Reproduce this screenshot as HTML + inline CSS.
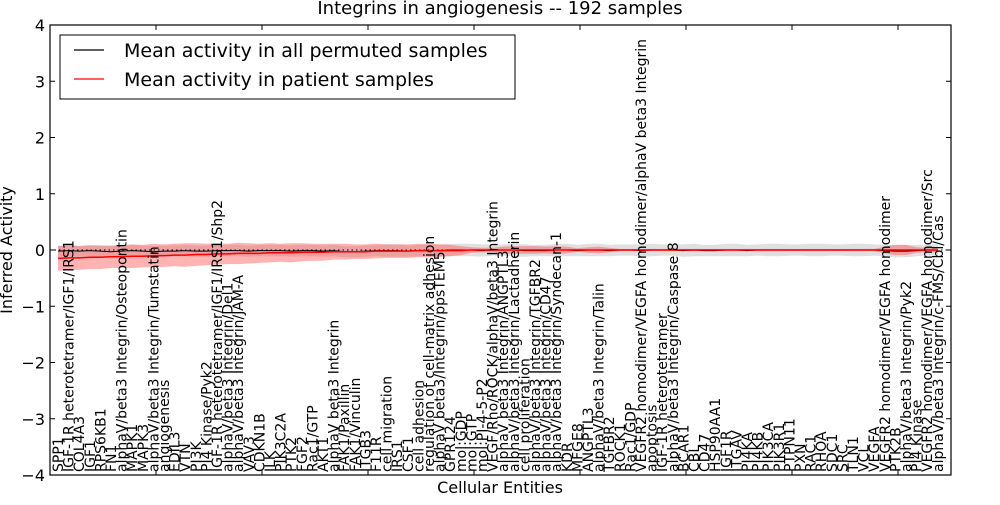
<!DOCTYPE html>
<html><head><meta charset="utf-8"><style>
body{margin:0;background:#fff;width:1000px;height:500px;overflow:hidden}
svg text{font-family:"DejaVu Sans","Liberation Sans",sans-serif}
</style></head><body>
<svg id="chart" width="1000" height="500" viewBox="0 0 1000 500" xmlns="http://www.w3.org/2000/svg">
<text x="500" y="14" font-size="18" text-anchor="middle">Integrins in angiogenesis -- 192 samples</text>
<text transform="translate(12,250) rotate(-90)" font-size="16" text-anchor="middle">Inferred Activity</text>
<text x="500" y="493" font-size="16" text-anchor="middle">Cellular Entities</text>
<g id="bands"></g><g id="lines"></g><g id="labels"></g><g id="axes"></g>
<g>
<rect x="60" y="35" width="455" height="64" fill="#fff" stroke="#000" stroke-width="1"/>
<line x1="74" y1="50" x2="104" y2="50" stroke="#000" stroke-width="1.2"/>
<text x="124" y="57" font-size="19">Mean activity in all permuted samples</text>
<line x1="74" y1="79" x2="104" y2="79" stroke="red" stroke-width="1.2"/>
<text x="124" y="86" font-size="19">Mean activity in patient samples</text>
</g>
</svg>
<script>
const categories=["SPP1","IGF-1R heterotetramer/IGF1/IRS1","COL4A3","IGF1","RPS6KB1","FN1","alphaV/beta3 Integrin/Osteopontin","MAPK1","MAPK3","alphaV/beta3 Integrin/Tumstatin","angiogenesis","EDIL3","VTN","PI3K","PI4 Kinase/Pyk2","IGF-1R heterotetramer/IGF1/IRS1/Shp2","alphaV/beta3 Integrin/Del1","alphaV/beta3 Integrin/JAM-A","VAV3","CDKN1B","ILK","PIK3C2A","PTK2","FGF2","Rac1/GTP","AKT1","alphaV beta3 Integrin","FAK1/Paxillin","FAK1/Vinculin","ITGB3","F11R","cell migration","IRS1","CSF1","cell adhesion","regulation of cell-matrix adhesion","alphaV beta3/Integrin/ppsTEM5","GPR124","mol:GDP","mol:GTP","mol:PI-4-5-P2","VEGF/Rho/ROCK/alphaV/beta3 Integrin","alphaV beta3 Integrin/ANGPTL3","alphaV/beta3 Integrin/Lactadherin","cell proliferation","alphaV/beta3 Integrin/TGFBR2","alphaV/beta3 Integrin/CD47","alphaV/beta3 Integrin/Syndecan-1","KDR","MFGE8","ANGPTL3","alphaV/beta3 Integrin/Talin","TGFBR2","ROCK1","Rac1/GDP","VEGFR2 homodimer/VEGFA homodimer/alphaV beta3 Integrin","apoptosis","IGF-1R heterotetramer","alphaV/beta3 Integrin/Caspase 8","BCAR1","CBL","CD47","HSP90AA1","IGF1R","ITGAV","PI4KA","PI4KB","PIK3CA","PIK3R1","PTPN11","PXN","RAC1","RHOA","SDC1","SRC","TLN1","VCL","VEGFA","VEGFR2 homodimer/VEGFA homodimer","PTK2B","alphaV/beta3 Integrin/Pyk2","PI4 Kinase","VEGFR2 homodimer/VEGFA homodimer/Src","alphaV/beta3 Integrin/c-FMS/Cbl/Cas"];
const redMean=[-0.15,-0.14,-0.14,-0.13,-0.13,-0.12,-0.12,-0.11,-0.11,-0.1,-0.1,-0.09,-0.09,-0.08,-0.08,-0.07,-0.07,-0.06,-0.06,-0.06,-0.05,-0.05,-0.05,-0.04,-0.04,-0.04,-0.03,-0.03,-0.03,-0.03,-0.02,-0.02,-0.02,-0.02,-0.01,-0.01,-0.01,-0.01,-0.01,0,0,0,0,0,0,0,0,0,0,0,0,0,0,0,0,0,0,0,0,0,0,0,0,0,0,0,0,0,0,0,0,0,0,0,0,0,0,0,0,0,0,0,0,0];
const redSd=[0.22,0.22,0.21,0.21,0.21,0.2,0.2,0.21,0.2,0.21,0.2,0.2,0.21,0.2,0.19,0.19,0.18,0.19,0.18,0.17,0.17,0.16,0.17,0.16,0.15,0.15,0.14,0.14,0.13,0.13,0.13,0.12,0.12,0.12,0.12,0.12,0.11,0.1,0.08,0.05,0.04,0.04,0.06,0.07,0.07,0.07,0.06,0.07,0.06,0.03,0.05,0.06,0.04,0.02,0.02,0.02,0.02,0.02,0.02,0.02,0.02,0.02,0.02,0.02,0.02,0.02,0.02,0.02,0.02,0.02,0.02,0.02,0.02,0.02,0.02,0.02,0.02,0.02,0.06,0.09,0.09,0.05,0.04,0.04];
const blackMean=[-0.02,-0.01,-0.02,-0.01,-0.02,-0.03,-0.02,-0.01,-0.02,-0.03,-0.02,-0.02,-0.01,-0.02,-0.02,-0.01,-0.01,-0.01,-0.02,-0.01,-0.01,-0.01,-0.02,-0.01,-0.01,-0.02,-0.01,-0.03,-0.03,-0.02,-0.01,-0.01,-0.01,-0.02,-0.01,-0.01,-0.01,0,0,0,-0.01,0,0,0,-0.01,-0.01,-0.01,0,0,-0.01,0,0,-0.01,0,0,-0.01,0,0,0,-0.01,0,-0.01,-0.01,0,0,-0.01,0,0,0,0,0,0,0,0,0,0,0,0,-0.01,-0.02,-0.02,-0.01,0,0];
const blackSd=[0.1,0.1,0.1,0.1,0.1,0.1,0.1,0.1,0.1,0.1,0.1,0.1,0.1,0.1,0.1,0.1,0.1,0.1,0.1,0.1,0.1,0.1,0.1,0.1,0.1,0.1,0.1,0.1,0.1,0.1,0.1,0.11,0.11,0.1,0.1,0.1,0.11,0.11,0.11,0.11,0.11,0.1,0.1,0.11,0.11,0.1,0.1,0.11,0.11,0.1,0.11,0.11,0.1,0.1,0.1,0.11,0.11,0.1,0.1,0.11,0.11,0.1,0.1,0.11,0.11,0.1,0.1,0.11,0.11,0.1,0.1,0.11,0.11,0.1,0.1,0.11,0.11,0.1,0.1,0.11,0.11,0.1,0.1,0.1];
const yTicks=[4,3,2,1,0,-1,-2,-3,-4];
const yTickLabels=["4","3","2","1","0","\u22121","\u22122","\u22123","\u22124"];
const xTicks=[10,20,30,40,50,60,70,80];
const NS="http://www.w3.org/2000/svg";
const L=50,R=951,T=25,B=475;
const xs=v=>L+(v-0)/(85-0)*(R-L);
const ys=v=>T+(4-v)/8*(B-T);
const xi=i=>xs(i+0.75);
function mk(tag,attrs,parent){const e=document.createElementNS(NS,tag);for(const k in attrs)e.setAttribute(k,attrs[k]);parent.appendChild(e);return e;}
const bands=document.getElementById('bands'),lines=document.getElementById('lines'),labels=document.getElementById('labels'),axes=document.getElementById('axes');
function bandPath(m,s){let up=m.map((v,i)=>xi(i).toFixed(1)+','+ys(v+s[i]).toFixed(1));let dn=m.map((v,i)=>xi(i).toFixed(1)+','+ys(v-s[i]).toFixed(1)).reverse();return 'M'+up.join('L')+'L'+dn.join('L')+'Z';}
function linePath(m){return 'M'+m.map((v,i)=>xi(i).toFixed(1)+','+ys(v).toFixed(1)).join('L');}
const gb=mk('path',{d:bandPath(blackMean,blackSd),fill:'#bbb','fill-opacity':'0.45',stroke:'none'},bands);


const rb=mk('path',{d:bandPath(redMean,redSd),fill:'#ff4040','fill-opacity':'0.4',stroke:'none'},bands);


const zl=mk('line',{x1:L,x2:R,y1:ys(0),y2:ys(0),stroke:'#000','stroke-dasharray':'1.5,3','stroke-width':'1'},lines);


const bl=mk('path',{d:linePath(blackMean),fill:'none',stroke:'#000','stroke-width':'1'},lines);


const rl=mk('path',{d:linePath(redMean),fill:'none',stroke:'#ff0000','stroke-width':'1.5'},lines);


categories.forEach((c,i)=>{const x=xi(i)+5;const t=mk('text',{transform:`translate(${x.toFixed(1)},472) rotate(-90)`,'font-size':'14'},labels);t.textContent=c;

});
const fr=mk('rect',{x:L,y:T,width:R-L,height:B-T,fill:'none',stroke:'#000','stroke-width':'1.2'},axes);


yTicks.forEach((v,i)=>{const y=ys(v);mk('line',{x1:L,x2:L+5,y1:y,y2:y,stroke:'#000'},axes);mk('line',{x1:R-5,x2:R,y1:y,y2:y,stroke:'#000'},axes);
const t=mk('text',{x:45,y:y+6,'font-size':'16','text-anchor':'end'},axes);t.textContent=yTickLabels[i];

});
xTicks.forEach(v=>{const x=xs(v);mk('line',{x1:x,x2:x,y1:T,y2:T+5,stroke:'#000'},axes);mk('line',{x1:x,x2:x,y1:B-5,y2:B,stroke:'#000'},axes);});
</script>
</body></html>
